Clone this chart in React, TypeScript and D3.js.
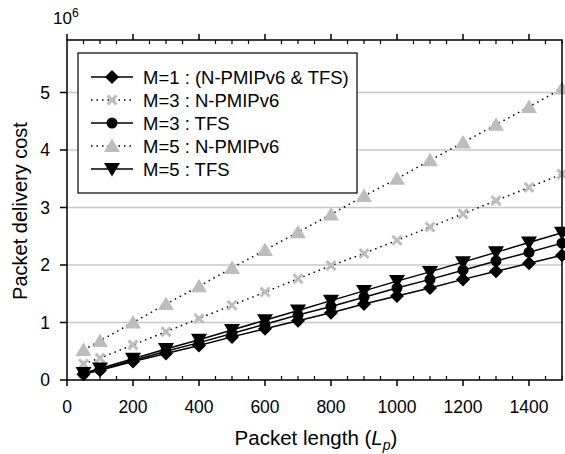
import React from "react";
import * as d3 from "d3";

const xValues = [50, 100, 200, 300, 400, 500, 600, 700, 800, 900, 1000, 1100, 1200, 1300, 1400, 1500];
const m1Both = [0.1, 0.17, 0.32, 0.46, 0.6, 0.75, 0.89, 1.03, 1.17, 1.32, 1.46, 1.6, 1.75, 1.89, 2.03, 2.17];
const m3Npmip = [0.28, 0.38, 0.61, 0.84, 1.07, 1.3, 1.53, 1.76, 1.99, 2.2, 2.43, 2.66, 2.89, 3.12, 3.35, 3.58];
const m3Tfs = [0.11, 0.18, 0.34, 0.5, 0.65, 0.81, 0.97, 1.13, 1.28, 1.44, 1.6, 1.75, 1.91, 2.07, 2.22, 2.38];
const m5Npmip = [0.52, 0.68, 1.0, 1.32, 1.63, 1.95, 2.26, 2.57, 2.88, 3.2, 3.5, 3.82, 4.13, 4.44, 4.75, 5.07];
const m5Tfs = [0.12, 0.2, 0.37, 0.54, 0.7, 0.87, 1.04, 1.21, 1.38, 1.55, 1.72, 1.88, 2.05, 2.22, 2.39, 2.56];

const seriesNames = [
  "M=1 : (N-PMIPv6 & TFS)",
  "M=3 : N-PMIPv6",
  "M=3 : TFS",
  "M=5 : N-PMIPv6",
  "M=5 : TFS",
];
const xTicks = [0, 200, 400, 600, 800, 1000, 1200, 1400];
const yTicks = [0, 1, 2, 3, 4, 5];

type Kind = "diamond" | "cross" | "circle" | "tri" | "tridown";

const series: { name: string; values: number[]; kind: Kind; dotted: boolean }[] = [
  { name: seriesNames[0], values: m1Both, kind: "diamond", dotted: false },
  { name: seriesNames[1], values: m3Npmip, kind: "cross", dotted: true },
  { name: seriesNames[2], values: m3Tfs, kind: "circle", dotted: false },
  { name: seriesNames[3], values: m5Npmip, kind: "tri", dotted: true },
  { name: seriesNames[4], values: m5Tfs, kind: "tridown", dotted: false },
];

const FONT = "'Liberation Sans', Arial, sans-serif";

function Marker({ kind, x, y }: { kind: Kind; x: number; y: number }) {
  switch (kind) {
    case "diamond":
      return <path d={`M${x},${y - 7}L${x + 7},${y}L${x},${y + 7}L${x - 7},${y}Z`} fill="#000" />;
    case "cross":
      return (
        <path
          d={`M${x - 4.5},${y - 4.5}L${x + 4.5},${y + 4.5}M${x - 4.5},${y + 4.5}L${x + 4.5},${y - 4.5}`}
          stroke="#bdbdbd"
          strokeWidth={3}
          fill="none"
        />
      );
    case "circle":
      return <circle cx={x} cy={y} r={5.5} fill="#000" />;
    case "tri":
      return <path d={`M${x},${y - 7.5}L${x + 8},${y + 6}L${x - 8},${y + 6}Z`} fill="#bdbdbd" />;
    case "tridown":
      return <path d={`M${x},${y + 7.5}L${x + 8},${y - 6}L${x - 8},${y - 6}Z`} fill="#000" />;
  }
}

export default function App() {
  const W = 565;
  const H = 454;
  const left = 67;
  const right = 562;
  const top = 40;
  const bottom = 380;

  const x = d3.scaleLinear().domain([0, 1500]).range([left, right]);
  const y = d3.scaleLinear().domain([0, 5]).range([bottom, 92.5]);

  const line = d3
    .line<number>()
    .x((_, i) => x(xValues[i]))
    .y((d) => y(d));

  const minorX = d3.range(0, 1501, 50).filter((v) => v % 200 !== 0);

  const legX = 78;
  const legY = 53;
  const legRows = [77, 100, 123, 146, 169];

  return (
    <svg width={W} height={H} style={{ position: "absolute", left: 0, top: 0 }} fontFamily={FONT}>
      <rect x={0} y={0} width={W} height={H} fill="#fff" />
      {/* gridlines */}
      {yTicks.filter((t) => t > 0).map((t) => (
        <line key={t} x1={left} x2={right} y1={y(t)} y2={y(t)} stroke="#c8c8c8" strokeWidth={1.5} />
      ))}
      {/* series lines */}
      {series.map((s) => (
        <path
          key={s.name + "l"}
          d={line(s.values) || ""}
          fill="none"
          stroke="#000"
          strokeWidth={1.5}
          strokeDasharray={s.dotted ? "1.5,4" : undefined}
        />
      ))}
      {series.map((s) =>
        s.values.map((v, i) => <Marker key={s.name + i} kind={s.kind} x={x(xValues[i])} y={y(v)} />)
      )}
      {/* frame */}
      <rect x={left} y={top} width={right - left} height={bottom - top} fill="none" stroke="#000" strokeWidth={1.5} />
      {/* x ticks */}
      {xTicks.map((t) => (
        <g key={"xt" + t}>
          <line x1={x(t)} x2={x(t)} y1={bottom} y2={bottom + 6} stroke="#000" strokeWidth={1.5} />
          <line x1={x(t)} x2={x(t)} y1={top} y2={top - 6} stroke="#000" strokeWidth={1.5} />
          <text x={x(t)} y={413} textAnchor="middle" fontSize={17.5}>
            {t}
          </text>
        </g>
      ))}
      {minorX.map((t) => (
        <g key={"mx" + t}>
          <line x1={x(t)} x2={x(t)} y1={bottom} y2={bottom - 4} stroke="#000" strokeWidth={1.2} />
          <line x1={x(t)} x2={x(t)} y1={top} y2={top + 4} stroke="#000" strokeWidth={1.2} />
        </g>
      ))}
      {/* y ticks */}
      {yTicks.map((t) => (
        <g key={"yt" + t}>
          <line x1={left - 7} x2={left} y1={y(t)} y2={y(t)} stroke="#000" strokeWidth={1.5} />
          <text x={50} y={y(t) + 6} textAnchor="end" fontSize={17.5}>
            {t}
          </text>
        </g>
      ))}
      <text x={53} y={24} fontSize={17}>
        10<tspan dy={-7} fontSize={12}>6</tspan>
      </text>
      {/* axis titles */}
      <text x={316} y={445} textAnchor="middle" fontSize={20.5}>
        Packet length (<tspan fontStyle="italic">L</tspan>
        <tspan fontStyle="italic" fontSize={14} dy={5}>p</tspan>
        <tspan dy={-5}>)</tspan>
      </text>
      <text transform={`translate(27,${(top + bottom) / 2 + 1}) rotate(-90)`} textAnchor="middle" fontSize={20}>
        Packet delivery cost
      </text>
      {/* legend */}
      <rect x={legX} y={legY} width={279} height={140} fill="#fff" stroke="#000" strokeWidth={1.2} />
      {series.map((s, i) => (
        <g key={"lg" + i}>
          <line
            x1={91}
            x2={133}
            y1={legRows[i]}
            y2={legRows[i]}
            stroke="#000"
            strokeWidth={1.5}
            strokeDasharray={s.dotted ? "1.5,4" : undefined}
          />
          <Marker kind={s.kind} x={112} y={legRows[i]} />
          <text x={143} y={legRows[i] + 6.5} fontSize={18.5}>
            {s.name}
          </text>
        </g>
      ))}
    </svg>
  );
}
